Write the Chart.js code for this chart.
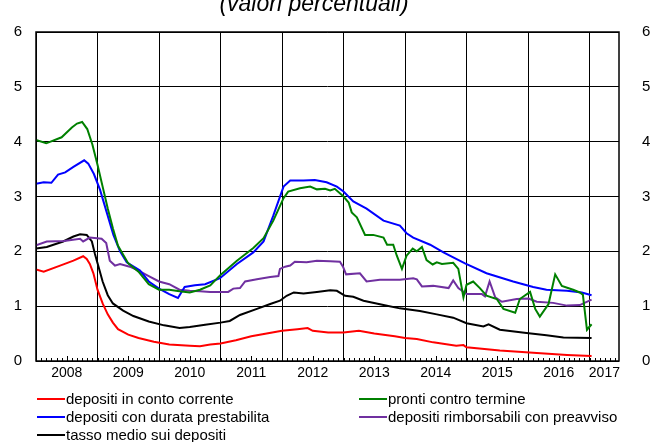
<!DOCTYPE html>
<html>
<head>
<meta charset="utf-8">
<script src="https://cdn.jsdelivr.net/npm/chart.js@4/dist/chart.umd.min.js"></script>
<style>
html,body{margin:0;padding:0;background:#fff;}
#wrap{width:653px;height:442px;position:relative;}
</style>
</head>
<body>
<div id="wrap"><canvas id="c" width="653" height="442"></canvas></div>
<script>
// months counted from January 2008 (0 = Jan 2008)
const titleText = "(valori percentuali)";
const yearLabels = ["2008","2009","2010","2011","2012","2013","2014","2015","2016","2017"];
const yTicks = [0,1,2,3,4,5,6];

const redMonths = [0,1.5,4.7,7.3,9.2,9.9,10.5,11.2,12,13,14,15,16,18,20,23,26,30,32,34,36,39,42,45,48,51,53,54,57,60,63,66,70,72,74.3,77.5,82,83.4,84,90.5,97,103.6,108.4];
const redValues = [1.67,1.63,1.74,1.83,1.91,1.86,1.77,1.6,1.3,1.05,0.85,0.7,0.58,0.48,0.42,0.35,0.3,0.28,0.27,0.3,0.32,0.38,0.45,0.5,0.55,0.58,0.6,0.55,0.52,0.52,0.55,0.5,0.45,0.42,0.40,0.34,0.28,0.29,0.25,0.19,0.15,0.11,0.09];

const greenMonths = [0,2,5,7,8,9,10,11,12,13,14,15,16,18,20,22,24,26,28,30,32,34,36,39.2,42.4,44.4,46.3,48.3,49.2,51.5,53.5,54.8,56.4,57.4,58.3,60,61,61.6,62.6,64.2,65.8,67.8,68.5,69.7,70.4,71.4,72.3,73.5,74.3,75.3,76.2,77.4,78.2,79.2,81.4,82.4,83.4,84,85.3,86.6,87.9,89.9,91.2,93.5,94.4,96.4,97.4,98.3,100,101.3,102.6,104.8,106.1,106.7,107.5,108.4];
const greenValues = [4.03,3.97,4.08,4.26,4.33,4.36,4.23,3.95,3.58,3.18,2.78,2.42,2.1,1.78,1.63,1.4,1.3,1.3,1.27,1.25,1.3,1.38,1.57,1.83,2.06,2.24,2.56,2.97,3.09,3.15,3.18,3.13,3.14,3.11,3.14,3.0,2.89,2.71,2.62,2.30,2.30,2.25,2.12,2.12,1.92,1.68,1.92,2.05,2.0,2.08,1.84,1.76,1.80,1.77,1.79,1.68,1.16,1.39,1.45,1.33,1.19,1.13,0.95,0.88,1.13,1.26,0.95,0.81,1.04,1.58,1.37,1.30,1.25,1.21,0.57,0.67];

const blueMonths = [0,1.5,3,4.3,5.7,7.3,9.4,10.2,11.3,12.5,13.8,15.1,16.4,17.7,20.3,22,24,26,27.7,29,31,33,35.9,39.2,42.4,44.4,46.3,48.3,49.6,52.2,54.4,56.7,58.7,60,61.9,64.5,67.8,71,72.3,73.6,76.9,79.5,83.7,87.9,93.1,97,99.6,103.6,106.5,108.4];
const blueValues = [3.23,3.26,3.25,3.40,3.44,3.54,3.66,3.60,3.41,3.12,2.71,2.30,2.0,1.80,1.65,1.45,1.32,1.22,1.15,1.35,1.38,1.40,1.51,1.77,1.98,2.18,2.65,3.18,3.29,3.29,3.30,3.26,3.18,3.09,2.91,2.78,2.56,2.47,2.33,2.25,2.12,1.98,1.78,1.60,1.45,1.35,1.30,1.28,1.25,1.20];

const purpleMonths = [0,2.1,5.5,8.6,9.2,10.5,12.8,13.7,14.4,15.4,16.4,18.3,20,22,24,26,28,30,32,34,35.9,37.5,38.5,39.8,40.8,43.1,45.7,47.3,47.6,48.6,49.6,50.5,52.8,54.8,57.4,59.3,59.9,60.5,63.2,64.5,67.1,71,73.6,74.3,75.3,77.5,80.5,81.4,82.4,84,87,87.6,88.5,89.6,90.9,93.8,96.1,97.7,100.9,103.6,106.1,108.4];
const purpleValues = [2.11,2.18,2.19,2.23,2.18,2.25,2.23,2.15,1.83,1.74,1.77,1.72,1.65,1.55,1.45,1.4,1.3,1.28,1.27,1.26,1.26,1.26,1.32,1.33,1.45,1.49,1.53,1.55,1.68,1.72,1.74,1.81,1.80,1.83,1.82,1.81,1.72,1.58,1.60,1.45,1.48,1.48,1.51,1.49,1.36,1.37,1.33,1.47,1.33,1.22,1.22,1.18,1.45,1.16,1.08,1.13,1.14,1.08,1.06,1.01,1.02,1.12];

const blackMonths = [0,2.1,5.3,7.3,8.6,9.9,10.9,11.5,12.2,13,14,15,17,19,22,25,28,30,33,36,37.8,39.8,43.1,45.7,47.6,48.9,50.3,52.2,54.8,57.4,58.7,60.3,61.9,63.9,67.8,71,74.9,78.2,81.4,84,87.3,88.3,90.5,95.7,99.6,102.9,108.4];
const blackValues = [2.05,2.08,2.18,2.27,2.31,2.30,2.18,1.95,1.72,1.45,1.2,1.05,0.92,0.82,0.72,0.65,0.6,0.62,0.66,0.7,0.73,0.84,0.95,1.04,1.10,1.19,1.25,1.23,1.26,1.29,1.28,1.19,1.17,1.10,1.02,0.96,0.91,0.85,0.79,0.69,0.63,0.67,0.57,0.51,0.47,0.43,0.42];

const seriesNames = ["depositi in conto corrente","pronti contro termine","depositi con durata prestabilita","depositi rimborsabili con preavviso","tasso medio sui depositi"];
const seriesColors = ["#ff0000","#008000","#0000ff","#7030a0","#000000"];

function pts(ms, vs){ return ms.map((m,i)=>({x:m,y:vs[i]})); }
const allData = [pts(redMonths,redValues),pts(greenMonths,greenValues),pts(blueMonths,blueValues),pts(purpleMonths,purpleValues),pts(blackMonths,blackValues)];

const FONT = "'Liberation Sans', Arial, sans-serif";

const framePlugin = {
  id:'frame',
  afterDatasetsDraw(chart){
    const {ctx, chartArea:a, scales} = chart;
    ctx.save();
    // monthly minor ticks along bottom axis (inside)
    ctx.strokeStyle = '#000'; ctx.lineWidth = 1;
    const xs = scales.x;
    for(let m=0; m<=113; m++){
      const px = Math.round(xs.getPixelForValue(m))+0.5;
      const len = (m%12===6)?5:3;
      ctx.beginPath(); ctx.moveTo(px,a.bottom); ctx.lineTo(px,a.bottom-len); ctx.stroke();
    }
    ctx.lineWidth = 1.5;
    ctx.strokeRect(a.left, a.top, a.right-a.left, a.bottom-a.top);
    ctx.restore();
  },
  afterDraw(chart){
    const {ctx} = chart;
    ctx.save();
    // title (partly outside the top of the picture)
    ctx.fillStyle = '#000';
    ctx.font = "italic 23px " + FONT;
    ctx.textAlign = 'center'; ctx.textBaseline = 'alphabetic';
    ctx.fillText(titleText, 314, 11);
    // legend, in two columns, row by row
    ctx.font = "15px " + FONT;
    ctx.textAlign = 'left'; ctx.textBaseline = 'middle';
    const pos = [[37,399],[359,399],[37,417],[359,417],[37,435]];
    seriesNames.forEach((name,i)=>{
      const [x,y] = pos[i];
      ctx.strokeStyle = seriesColors[i]; ctx.lineWidth = 2;
      ctx.beginPath(); ctx.moveTo(x,y); ctx.lineTo(x+28,y); ctx.stroke();
      ctx.fillStyle = '#000';
      ctx.fillText(name, x+29, y+1);
    });
    ctx.restore();
  }
};

const gridTicks = [];
for(let i=0;i<=9;i++) gridTicks.push(i*12);
const labelTicks = [];
for(let i=0;i<9;i++) labelTicks.push(i*12+6);
labelTicks.push(110.9);

new Chart(document.getElementById('c'), {
  type:'line',
  data:{
    datasets: allData.map((d,i)=>({
      label: seriesNames[i], data:d, borderColor: seriesColors[i], backgroundColor: seriesColors[i],
      borderWidth:2, pointRadius:0, tension:0, fill:false
    }))
  },
  options:{
    responsive:false, animation:false,
    layout:{padding:{top:20,bottom:56,left:0,right:0}},
    plugins:{legend:{display:false}, tooltip:{enabled:false}},
    scales:{
      x:{
        type:'linear', min:0, max:113.75,
        afterBuildTicks(scale){
          scale.ticks = gridTicks.concat(labelTicks).sort((a,b)=>a-b).map(v=>({value:v}));
        },
        afterFit(scale){ scale.height = 25; },
        grid:{ color:(c)=> (c.tick && c.tick.value%12===0) ? '#000' : 'rgba(0,0,0,0)', lineWidth:1, drawTicks:false },
        border:{display:false},
        ticks:{
          autoSkip:false, maxRotation:0, minRotation:0, padding:4,
          color:'#000', font:{family:FONT, size:14},
          callback:(v)=>{
            if (Math.abs(v-110.9)<0.01) return yearLabels[9];
            if (v%12===6) return yearLabels[(v-6)/12];
            return '';
          }
        }
      },
      y:{
        type:'linear', position:'left', min:0, max:6,
        afterBuildTicks(scale){ scale.ticks = yTicks.map(v=>({value:v})); },
        afterFit(scale){ scale.width = 36; },
        grid:{color:'#000', lineWidth:1, drawTicks:false},
        border:{display:false},
        ticks:{padding:14, color:'#000', font:{family:FONT, size:15}}
      },
      y2:{
        type:'linear', position:'right', min:0, max:6,
        afterBuildTicks(scale){ scale.ticks = yTicks.map(v=>({value:v})); },
        afterFit(scale){ scale.width = 34; },
        grid:{display:false, drawTicks:false},
        border:{display:false},
        ticks:{padding:23, color:'#000', font:{family:FONT, size:15}}
      }
    }
  },
  plugins:[framePlugin]
});
</script>
</body>
</html>
